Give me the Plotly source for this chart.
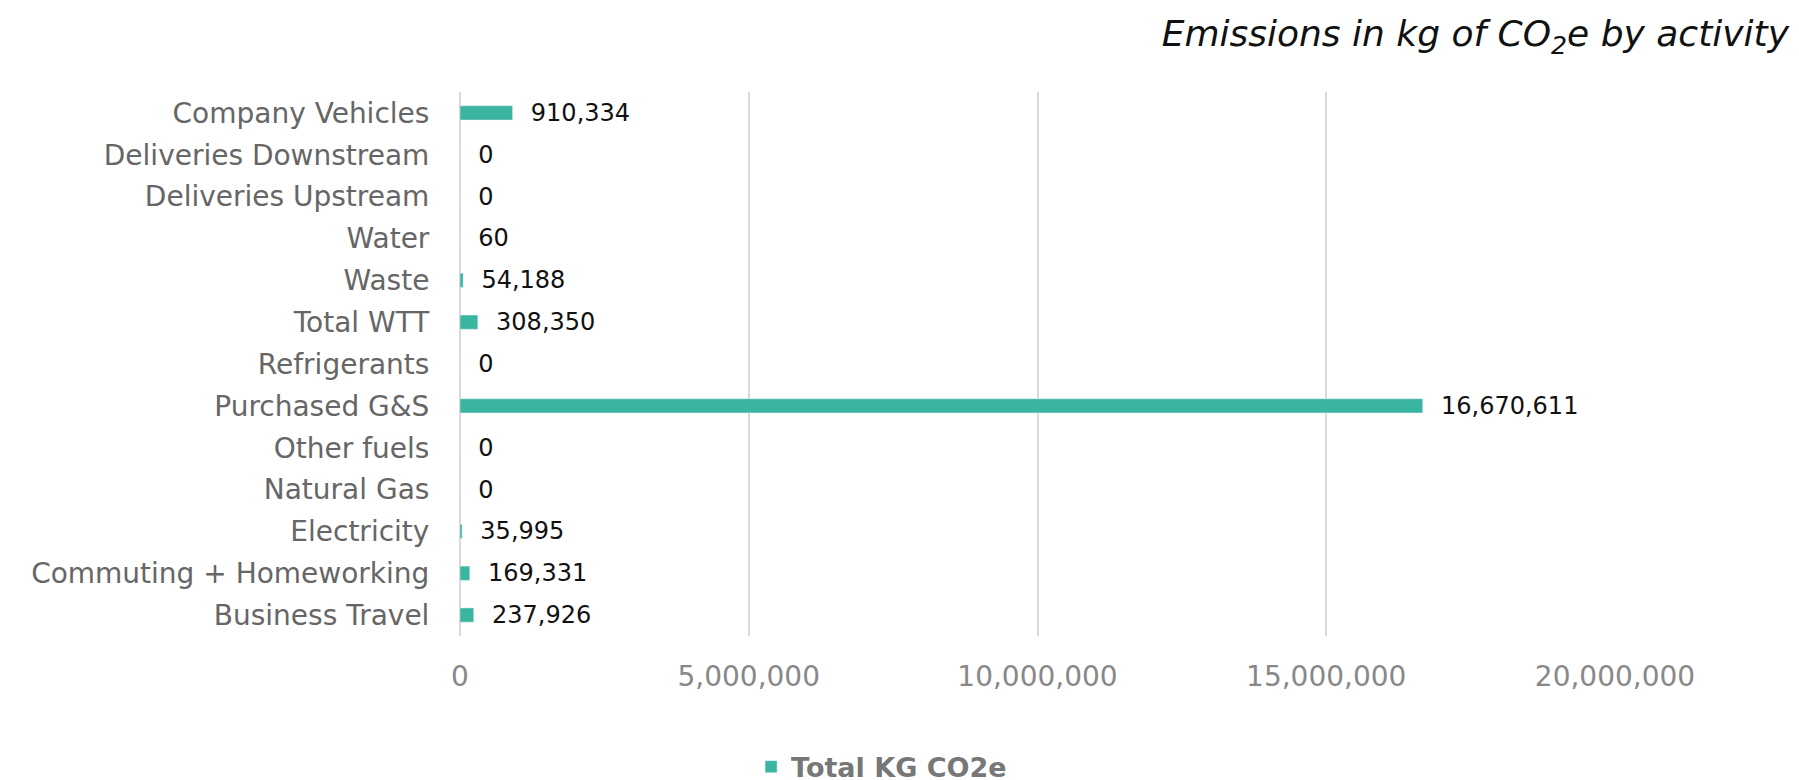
import plotly.graph_objects as go

categories = ["Business Travel", "Commuting + Homeworking", "Electricity", "Natural Gas",
              "Other fuels", "Purchased G&S", "Refrigerants", "Total WTT", "Waste",
              "Water", "Deliveries Upstream", "Deliveries Downstream", "Company Vehicles"]
values = [237926, 169331, 35995, 0, 0, 16670611, 0, 308350, 54188, 60, 0, 0, 910334]
tick_vals = [0, 5000000, 10000000, 15000000, 20000000]

FONT = "DejaVu Sans"
fig = go.Figure()
fig.add_trace(go.Bar(
    y=categories, x=values, orientation="h",
    name="<b>Total KG CO2e</b>",
    marker=dict(color="#3AB5A0"),
    width=0.34,
    text=["\u00a0\u00a0" + f"{v:,}" for v in values],
    textposition="outside",
    constraintext="none",
    textfont=dict(family=FONT, size=24, color="#111111"),
    cliponaxis=False,
))
fig.update_layout(
    width=1799, height=780,
    paper_bgcolor="white", plot_bgcolor="white",
    margin=dict(l=452, r=192, t=84, b=152, autoexpand=False),
    font=dict(family=FONT),
    title=dict(text="<i>Emissions in kg of CO<sub>2</sub>e by activity</i>",
               x=0.99, xanchor="right", y=0.967, yanchor="middle",
               font=dict(family=FONT, size=36, color="#111111")),
    showlegend=True,
    legend=dict(orientation="h", x=0.365, xanchor="center", y=-0.241, yanchor="middle",
                font=dict(family=FONT, size=27, color="#777777")),
)
fig.update_xaxes(range=[0, 20000000], tickvals=tick_vals, tickformat=",", automargin=False,
                 showgrid=True, gridcolor="#D9D9D9", gridwidth=2,
                 zeroline=True, zerolinecolor="#D9D9D9", zerolinewidth=2,
                 ticks="outside", ticklen=15, tickcolor="rgba(0,0,0,0)",
                 tickfont=dict(family=FONT, size=28, color="#888888"))
fig.update_yaxes(categoryorder="array", categoryarray=categories, automargin=False,
                 showgrid=False, ticks="outside", ticklen=24, tickcolor="rgba(0,0,0,0)",
                 tickfont=dict(family=FONT, size=28, color="#666666"))
fig.write_html("out.html")
